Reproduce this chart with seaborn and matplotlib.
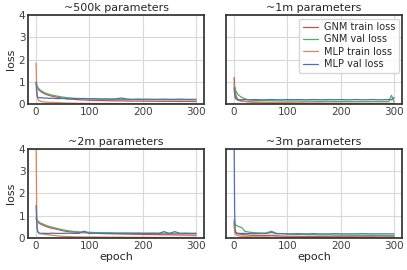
import numpy as np
import pandas as pd
import matplotlib
matplotlib.use("Agg")
import matplotlib.pyplot as plt
import seaborn as sns

epochs = [0, 1, 2, 3, 5, 7, 10, 15, 20, 25, 30, 40, 50, 60, 70, 80, 90, 100, 110, 120,
          130, 140, 150, 160, 170, 180, 190, 200, 210, 220, 230, 240, 250, 260, 270, 280,
          290, 295, 300]

titles = ["~500k parameters", "~1m parameters", "~2m parameters", "~3m parameters"]
series_names = ["GNM train loss", "GNM val loss", "MLP train loss", "MLP val loss"]

# ~500k
p1_gnm_train = [0.95,0.85,0.78,0.72,0.65,0.60,0.55,0.48,0.43,0.39,0.36,0.31,0.27,0.24,0.22,0.20,0.19,0.18,0.17,0.165,0.16,0.155,0.15,0.15,0.145,0.14,0.14,0.14,0.135,0.135,0.13,0.13,0.13,0.13,0.125,0.125,0.125,0.12,0.12]
p1_gnm_val = [0.95,0.88,0.82,0.77,0.70,0.65,0.60,0.53,0.48,0.44,0.41,0.36,0.32,0.29,0.27,0.26,0.25,0.24,0.235,0.23,0.225,0.22,0.22,0.215,0.215,0.21,0.21,0.21,0.205,0.205,0.205,0.20,0.20,0.20,0.20,0.20,0.195,0.195,0.195]
p1_mlp_train = [1.85,0.90,0.40,0.25,0.17,0.14,0.12,0.10,0.09,0.085,0.08,0.07,0.06,0.05,0.045,0.04,0.04,0.035,0.035,0.03,0.03,0.03,0.03,0.025,0.025,0.025,0.025,0.025,0.02,0.02,0.02,0.02,0.02,0.02,0.02,0.02,0.02,0.02,0.02]
p1_mlp_val = [1.00,0.55,0.38,0.32,0.30,0.28,0.30,0.27,0.28,0.26,0.27,0.25,0.26,0.24,0.25,0.24,0.26,0.24,0.25,0.23,0.24,0.23,0.24,0.28,0.23,0.22,0.23,0.22,0.23,0.22,0.22,0.23,0.22,0.22,0.23,0.22,0.22,0.22,0.22]

# ~1m
p2_gnm_train = [1.20,0.80,0.60,0.45,0.30,0.22,0.18,0.15,0.13,0.12,0.11,0.09,0.08,0.07,0.065,0.06,0.055,0.05,0.05,0.045,0.045,0.04,0.04,0.04,0.035,0.035,0.035,0.03,0.03,0.03,0.03,0.03,0.025,0.025,0.025,0.025,0.025,0.02,0.02]
p2_gnm_val = [0.90,0.80,0.70,0.62,0.52,0.45,0.38,0.30,0.25,0.21,0.19,0.17,0.16,0.155,0.15,0.15,0.145,0.14,0.14,0.14,0.135,0.135,0.13,0.13,0.13,0.13,0.125,0.125,0.125,0.12,0.12,0.12,0.12,0.12,0.12,0.12,0.12,0.40,0.10]
p2_mlp_train = [0.90,0.60,0.40,0.30,0.22,0.18,0.15,0.13,0.12,0.11,0.10,0.09,0.08,0.075,0.07,0.065,0.06,0.06,0.055,0.055,0.05,0.05,0.05,0.05,0.045,0.045,0.045,0.045,0.045,0.04,0.04,0.04,0.04,0.04,0.04,0.04,0.04,0.04,0.04]
p2_mlp_val = [0.75,0.45,0.30,0.25,0.22,0.20,0.20,0.20,0.21,0.20,0.20,0.21,0.20,0.20,0.21,0.20,0.20,0.21,0.20,0.21,0.20,0.20,0.21,0.20,0.20,0.21,0.20,0.21,0.20,0.20,0.21,0.20,0.20,0.21,0.20,0.20,0.21,0.20,0.30]

# ~2m
p3_gnm_train = [0.85,0.80,0.75,0.72,0.68,0.64,0.60,0.55,0.50,0.46,0.43,0.38,0.32,0.28,0.26,0.24,0.23,0.22,0.21,0.20,0.19,0.185,0.18,0.175,0.17,0.165,0.16,0.155,0.15,0.15,0.145,0.14,0.14,0.135,0.13,0.13,0.125,0.12,0.12]
p3_gnm_val = [0.90,0.85,0.81,0.78,0.72,0.68,0.65,0.60,0.55,0.51,0.48,0.42,0.36,0.32,0.29,0.27,0.26,0.25,0.24,0.235,0.23,0.225,0.22,0.22,0.215,0.215,0.21,0.21,0.21,0.205,0.205,0.205,0.20,0.20,0.20,0.20,0.20,0.20,0.20]
p3_mlp_train = [4.50,1.50,0.50,0.30,0.22,0.19,0.18,0.16,0.15,0.13,0.12,0.09,0.07,0.06,0.05,0.045,0.04,0.04,0.035,0.035,0.03,0.03,0.03,0.03,0.025,0.025,0.025,0.025,0.025,0.02,0.02,0.02,0.02,0.02,0.02,0.02,0.02,0.02,0.02]
p3_mlp_val = [1.45,0.80,0.40,0.28,0.22,0.21,0.20,0.21,0.20,0.20,0.21,0.20,0.20,0.21,0.20,0.20,0.30,0.20,0.21,0.20,0.20,0.21,0.20,0.20,0.21,0.20,0.21,0.20,0.20,0.21,0.20,0.28,0.20,0.28,0.20,0.21,0.20,0.20,0.20]

# ~3m
p4_gnm_train = [0.70,0.40,0.30,0.25,0.20,0.18,0.17,0.15,0.14,0.13,0.12,0.11,0.10,0.10,0.12,0.09,0.08,0.07,0.07,0.065,0.06,0.06,0.06,0.055,0.055,0.05,0.05,0.05,0.05,0.05,0.045,0.045,0.045,0.045,0.04,0.04,0.04,0.04,0.04]
p4_gnm_val = [0.80,0.65,0.60,0.58,0.55,0.52,0.50,0.45,0.30,0.27,0.25,0.23,0.22,0.22,0.30,0.20,0.19,0.17,0.16,0.15,0.15,0.14,0.14,0.13,0.13,0.13,0.12,0.12,0.12,0.115,0.115,0.11,0.11,0.11,0.105,0.105,0.10,0.10,0.10]
p4_mlp_train = [0.60,0.30,0.20,0.16,0.12,0.10,0.08,0.07,0.06,0.055,0.05,0.045,0.04,0.04,0.035,0.035,0.03,0.03,0.03,0.03,0.025,0.025,0.025,0.025,0.025,0.025,0.02,0.02,0.02,0.02,0.02,0.02,0.02,0.02,0.02,0.02,0.02,0.02,0.02]
p4_mlp_val = [4.50,1.20,0.40,0.25,0.22,0.21,0.20,0.20,0.20,0.19,0.20,0.19,0.19,0.19,0.25,0.18,0.19,0.18,0.18,0.19,0.18,0.18,0.19,0.18,0.18,0.18,0.19,0.18,0.18,0.18,0.18,0.19,0.18,0.18,0.18,0.18,0.18,0.18,0.18]

panels = [
    [p1_gnm_train, p1_gnm_val, p1_mlp_train, p1_mlp_val],
    [p2_gnm_train, p2_gnm_val, p2_mlp_train, p2_mlp_val],
    [p3_gnm_train, p3_gnm_val, p3_mlp_train, p3_mlp_val],
    [p4_gnm_train, p4_gnm_val, p4_mlp_train, p4_mlp_val],
]

sns.set_theme(style="whitegrid")
plt.rcParams.update({
    "axes.edgecolor": "0.2",
    "axes.linewidth": 1.25,
    "grid.color": "0.85",
    "grid.linewidth": 0.8,
    "font.size": 7.5,
    "xtick.labelsize": 7.5,
    "ytick.labelsize": 7.5,
    "axes.labelsize": 8,
    "axes.titlesize": 8,
    "legend.fontsize": 7,
})
plt.rcParams["font.family"] = ["DejaVu Sans"]

deep = sns.color_palette("deep")
palette = {
    "GNM train loss": deep[3],
    "GNM val loss": deep[2],
    "MLP train loss": deep[1],
    "MLP val loss": deep[0],
}

fig, axes = plt.subplots(2, 2, figsize=(4.07, 2.70), dpi=100, sharey=True)
fig.subplots_adjust(left=0.069, right=0.988, top=0.944, bottom=0.119,
                    hspace=0.50, wspace=0.125)

for i, ax in enumerate(axes.flat):
    rows = []
    for name, vals in zip(series_names, panels[i]):
        for e, v in zip(epochs, vals):
            rows.append({"epoch": e, "loss": v, "series": name})
    df = pd.DataFrame(rows)
    sns.lineplot(data=df, x="epoch", y="loss", hue="series", hue_order=series_names,
                 palette=palette, linewidth=0.9, ax=ax, legend=(i == 1))
    ax.set_title(titles[i], pad=3)
    ax.set_ylim(0, 4)
    ax.set_xlim(-15, 315)
    ax.set_xticks([0, 100, 200, 300])
    ax.set_yticks([0, 1, 2, 3, 4])
    ax.tick_params(length=0, pad=2, labelcolor="0.25")
    if i % 2 == 0:
        ax.set_ylabel("loss", labelpad=2)
    else:
        ax.set_ylabel("")
    if i >= 2:
        ax.set_xlabel("epoch", labelpad=1)
    else:
        ax.set_xlabel("")
    for s in ax.spines.values():
        s.set_visible(True)
        s.set_color("0.2")

sns.move_legend(axes[0, 1], "upper right", title=None, frameon=True,
                fontsize=7, borderaxespad=0.35, handlelength=1.6,
                handletextpad=0.6, labelspacing=0.25, borderpad=0.35)

fig.savefig("out.png", dpi=100)
